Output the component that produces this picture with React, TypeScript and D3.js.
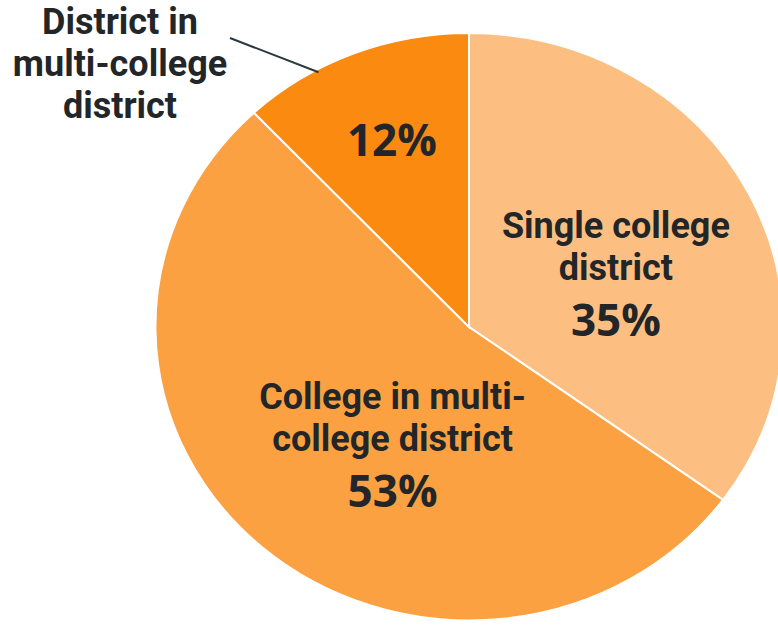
import React from "react";
import * as d3 from "d3";

const categories = ["Single college district", "College in multi-college district", "District in multi-college district"];
const values = [35, 53, 12];
const labelLines = [["Single college", "district"], ["College in multi-", "college district"], []];
const calloutLines = ["District in", "multi-college", "district"];
const colors = ["#FDBF81", "#FBA142", "#FB8A10"];

const W = 778, H = 627;
const cx = 469, cy = 327, rx = 314, ry = 294;
const textFont = "Roboto, 'Noto Sans', sans-serif";
const pctFont = "'Open Sans', 'Noto Sans', sans-serif";
const ink = "#222629";

// label placement (layout constants)
const labelR = [0.5, 0.45, 0.65];
const nudge: [number, number][] = [[7, 20], [17, 25], [-2, 7]];

function pointAt(angle: number, r: number): [number, number] {
  return [cx + rx * r * Math.sin(angle), cy - ry * r * Math.cos(angle)];
}

export default function App() {
  const pie = d3.pie<number>().sort(null).value((d) => d);
  const arcs = pie(values);
  const arc = d3.arc<d3.PieArcDatum<number>>().innerRadius(0).outerRadius(1);

  const callArc = arcs[2];
  const leaderEnd = pointAt(callArc.startAngle + 0.33 * (callArc.endAngle - callArc.startAngle), 0.99);
  const leaderStart: [number, number] = [230, 38];

  return (
    <svg width={W} height={H} style={{ position: "absolute", left: 0, top: 0, background: "#fff" }}>
      <g transform={`translate(${cx},${cy}) scale(${rx},${ry})`}>
        {arcs.map((a, i) => (
          <path
            key={categories[i]}
            d={arc(a) || ""}
            fill={colors[i]}
            stroke="#fff"
            strokeWidth={2}
            vectorEffect="non-scaling-stroke"
          />
        ))}
      </g>
      {arcs.map((a, i) => {
        const mid = (a.startAngle + a.endAngle) / 2;
        const [px, py] = pointAt(mid, labelR[i]);
        const x = px + nudge[i][0];
        const y = py + nudge[i][1];
        const lines = labelLines[i];
        const n = lines.length;
        return (
          <g key={"lab" + i} textAnchor="middle" fill={ink} fontWeight="bold">
            {lines.map((t, j) => (
              <text key={j} x={x} y={y + (j - (n - 1)) * 42} fontFamily={textFont} fontSize={36}>
                {t}
              </text>
            ))}
            <text x={x} y={n > 0 ? y + 56 : y} fontFamily={pctFont} fontSize={44}>
              {values[i]}%
            </text>
          </g>
        );
      })}
      <line
        x1={leaderStart[0]}
        y1={leaderStart[1]}
        x2={leaderEnd[0]}
        y2={leaderEnd[1]}
        stroke="#2b3a3e"
        strokeWidth={2}
      />
      <g textAnchor="middle" fill={ink} fontWeight="bold" fontFamily={textFont} fontSize={36}>
        {calloutLines.map((t, j) => (
          <text key={j} x={120} y={34 + j * 42}>
            {t}
          </text>
        ))}
      </g>
    </svg>
  );
}
